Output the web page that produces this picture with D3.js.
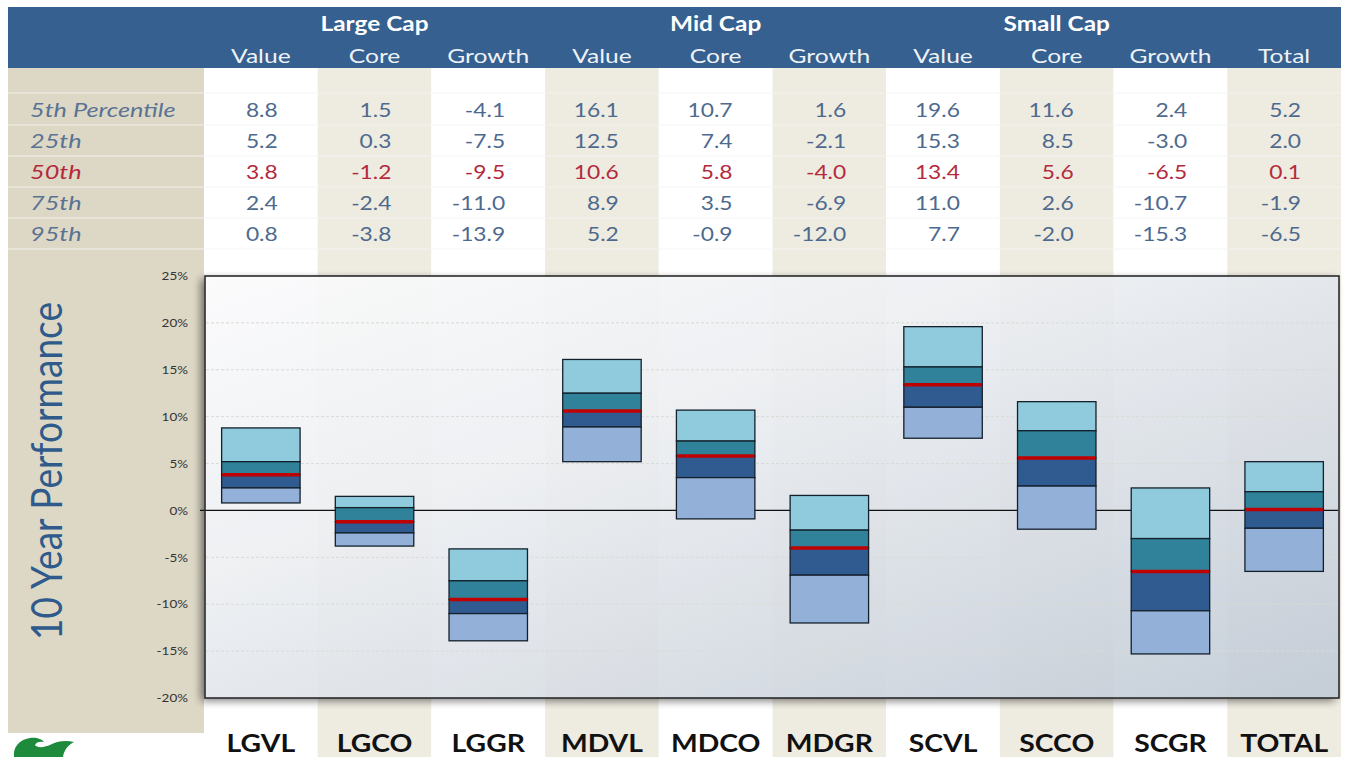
<!DOCTYPE html>
<html>
<head>
<meta charset="utf-8">
<script src="https://cdn.jsdelivr.net/npm/d3@7"></script>
<style>
  html, body { margin: 0; padding: 0; background: #ffffff; }
  svg { display: block; }
  text { font-family: Lato, "Open Sans", sans-serif; }
</style>
</head>
<body>
<svg id="chart" width="1345" height="757"></svg>
<script>
// Style boxes and their percentile spreads
const categories = ["LGVL", "LGCO", "LGGR", "MDVL", "MDCO", "MDGR", "SCVL", "SCCO", "SCGR", "TOTAL"];
const groupLabels = ["Large Cap", "Mid Cap", "Small Cap"];
const subLabels = ["Value", "Core", "Growth", "Value", "Core", "Growth", "Value", "Core", "Growth", "Total"];
const rowLabels = ["5th Percentile", "25th", "50th", "75th", "95th"];

const p5  = [8.8, 1.5, -4.1, 16.1, 10.7, 1.6, 19.6, 11.6, 2.4, 5.2];
const p25 = [5.2, 0.3, -7.5, 12.5, 7.4, -2.1, 15.3, 8.5, -3.0, 2.0];
const p50 = [3.8, -1.2, -9.5, 10.6, 5.8, -4.0, 13.4, 5.6, -6.5, 0.1];
const p75 = [2.4, -2.4, -11.0, 8.9, 3.5, -6.9, 11.0, 2.6, -10.7, -1.9];
const p95 = [0.8, -3.8, -13.9, 5.2, -0.9, -12.0, 7.7, -2.0, -15.3, -6.5];

const yTicks = [25, 20, 15, 10, 5, 0, -5, -10, -15, -20];

const rows = [p5, p25, p50, p75, p95];

const svg = d3.select("#chart");
const W = 1345, H = 757;

// widen glyphs horizontally by factor k
function stretch(sel, k) {
  sel.each(function () {
    const l = this.getComputedTextLength();
    d3.select(this).attr("textLength", l * k).attr("lengthAdjust", "spacingAndGlyphs");
  });
}

// layout
const colLeft = 204, colRight = 1341;
const headTop = 7, headBottom = 68;
const rowTop = 94, rowH = 31.1;
const plotTop = 276, plotBottom = 698;

const x = d3.scaleBand().domain(categories).range([colLeft, colRight]).padding(0);
const xBox = d3.scaleBand().domain(categories).range([colLeft, colRight])
  .paddingInner(0.31).paddingOuter(0.155);
const y = d3.scaleLinear().domain([-20, 25]).range([plotBottom, plotTop]);

const defs = svg.append("defs");
const grad = defs.append("linearGradient").attr("id", "plotBg")
  .attr("x1", "0%").attr("y1", "0%").attr("x2", "100%").attr("y2", "100%");
grad.append("stop").attr("offset", "0%").attr("stop-color", "#fbfbfc");
grad.append("stop").attr("offset", "35%").attr("stop-color", "#eef0f3");
grad.append("stop").attr("offset", "100%").attr("stop-color", "#c2cbd6");

const shadow = defs.append("filter").attr("id", "shadow")
  .attr("x", "-5%").attr("y", "-5%").attr("width", "110%").attr("height", "110%");
shadow.append("feGaussianBlur").attr("in", "SourceAlpha").attr("stdDeviation", 4);
shadow.append("feOffset").attr("dx", -4).attr("dy", 3).attr("result", "off");
shadow.append("feComponentTransfer").append("feFuncA").attr("type", "linear").attr("slope", 0.55);
const merge = shadow.append("feMerge");
merge.append("feMergeNode");
merge.append("feMergeNode").attr("in", "SourceGraphic");

// left label column
svg.append("rect").attr("x", 8).attr("y", headBottom).attr("width", colLeft - 8)
  .attr("height", 733 - headBottom).attr("fill", "#ddd8c5");

// alternating column stripes
svg.append("g").selectAll("rect").data(categories).join("rect")
  .attr("x", d => x(d)).attr("y", headBottom)
  .attr("width", x.bandwidth()).attr("height", H - headBottom)
  .attr("fill", (d, i) => i % 2 ? "#eeebe1" : "#ffffff");

// faint row separators
const sepY = [93, 125, 156, 187, 218, 249];
svg.append("g").selectAll("line").data(sepY).join("line")
  .attr("x1", 8).attr("x2", colRight).attr("y1", d => d).attr("y2", d => d)
  .attr("stroke", "#f4f4f1").attr("stroke-width", 1.2).attr("opacity", 0.9);

// header band
svg.append("rect").attr("x", 8).attr("y", headTop).attr("width", colRight - 8)
  .attr("height", headBottom - headTop).attr("fill", "#35608f");

svg.append("g").selectAll("text").data(groupLabels).join("text")
  .attr("x", (d, i) => x(categories[i * 3 + 1]) + x.bandwidth() / 2)
  .attr("y", 31).attr("text-anchor", "middle")
  .attr("fill", "#ffffff").attr("font-weight", "bold").attr("font-size", 20)
  .text(d => d)
  .call(stretch, 1.22);

svg.append("g").selectAll("text").data(subLabels).join("text")
  .attr("x", (d, i) => x(categories[i]) + x.bandwidth() / 2)
  .attr("y", 63).attr("text-anchor", "middle")
  .attr("fill", "#eef2f7").attr("font-size", 20)
  .text(d => d)
  .call(stretch, 1.23);

// table of percentile values
const rowColor = i => i === 2 ? "#b42a3c" : "#4d6a8e";
const tbl = svg.append("g");
rows.forEach((vals, r) => {
  const yy = rowTop + r * rowH + 23;
  tbl.append("text").attr("x", 30).attr("y", yy)
    .attr("font-style", "italic").attr("font-size", 19)
    .attr("fill", r === 2 ? "#b42a3c" : "#5a7394").text(rowLabels[r])
    .call(stretch, 1.33);
  tbl.selectAll(null).data(vals).join("text")
    .attr("x", (d, i) => x(categories[i]) + x.bandwidth() - 40)
    .attr("y", yy).attr("text-anchor", "end")
    .attr("font-size", 18.5).attr("fill", rowColor(r))
    .text(d => d.toFixed(1))
    .call(stretch, 1.23);
});

// plot panel
svg.append("rect").attr("x", colLeft + 1).attr("y", plotTop)
  .attr("width", colRight - colLeft - 3).attr("height", plotBottom - plotTop)
  .attr("fill", "url(#plotBg)").attr("opacity", 0.93)
  .attr("filter", "url(#shadow)");

// gridlines
svg.append("g").selectAll("line").data(yTicks.filter(t => t !== 0 && t !== 25 && t !== -20)).join("line")
  .attr("x1", colLeft + 2).attr("x2", colRight - 3)
  .attr("y1", d => y(d)).attr("y2", d => y(d))
  .attr("stroke", "#d9dbd5").attr("stroke-width", 1).attr("stroke-dasharray", "3,2");

// y axis labels
const yAxis = d3.axisLeft(y).tickValues(yTicks).tickSize(0).tickPadding(0)
  .tickFormat(d => d + "%");
const ya = svg.append("g").attr("transform", `translate(188,0)`).call(yAxis);
ya.select(".domain").remove();
ya.selectAll("text").attr("font-family", "Lato, sans-serif").attr("font-size", 11.5)
  .attr("fill", "#333333").attr("dy", "0.32em")
  .call(stretch, 1.17);

// zero line
svg.append("line").attr("x1", 200).attr("x2", colRight - 3)
  .attr("y1", y(0)).attr("y2", y(0)).attr("stroke", "#111111").attr("stroke-width", 1.3);

// panel border
svg.append("rect").attr("x", colLeft + 1).attr("y", plotTop)
  .attr("width", colRight - colLeft - 3).attr("height", plotBottom - plotTop)
  .attr("fill", "none").attr("stroke", "#2b2b2b").attr("stroke-width", 1.6);

// percentile boxes
const segs = [
  { hi: p5,  lo: p25, fill: "#8fcbdc" },
  { hi: p25, lo: p50, fill: "#2f8299" },
  { hi: p50, lo: p75, fill: "#2f5b91" },
  { hi: p75, lo: p95, fill: "#93b1d8" }
];
const boxes = svg.append("g");
segs.forEach(s => {
  boxes.append("g").selectAll("rect").data(categories).join("rect")
    .attr("x", d => xBox(d)).attr("width", xBox.bandwidth())
    .attr("y", (d, i) => y(s.hi[i]))
    .attr("height", (d, i) => y(s.lo[i]) - y(s.hi[i]))
    .attr("fill", s.fill).attr("stroke", "#14202c").attr("stroke-width", 1.3);
});
// median markers
boxes.append("g").selectAll("line").data(categories).join("line")
  .attr("x1", d => xBox(d) + 0.5).attr("x2", d => xBox(d) + xBox.bandwidth() - 0.5)
  .attr("y1", (d, i) => y(p50[i])).attr("y2", (d, i) => y(p50[i]))
  .attr("stroke", "#c00000").attr("stroke-width", 3.5);

// category labels
const xAxis = d3.axisBottom(x).tickSize(0).tickPadding(0);
const xa = svg.append("g").attr("transform", `translate(0,752)`).call(xAxis);
xa.select(".domain").remove();
xa.selectAll("text").attr("font-family", "Lato, sans-serif").attr("font-size", 24)
  .attr("font-weight", "bold").attr("fill", "#111111").attr("y", 0).attr("dy", 0)
  .call(stretch, 1.18);

// vertical axis title
const title = svg.append("text")
  .attr("transform", "translate(62,471) scale(1.15,1) rotate(-90)")
  .attr("text-anchor", "middle").attr("fill", "#2f5b8c")
  .attr("font-size", 34).text("10 Year Performance");
const len = title.node().getComputedTextLength();
title.attr("font-size", 34 * 338 / len);

// logo block
svg.append("rect").attr("x", 8).attr("y", 733).attr("width", 146).attr("height", 24).attr("fill", "#ffffff");
svg.append("path")
  .attr("d", "M14,757 C13,748 18,740 30,738 C36,737 42,739 44,742 C40,741 36,742 35,745 C37,748 44,748 52,744 C58,741 66,740 74,742 C68,745 64,750 63,757 Z")
  .attr("fill", "#1e8a3c");
</script>
</body>
</html>
